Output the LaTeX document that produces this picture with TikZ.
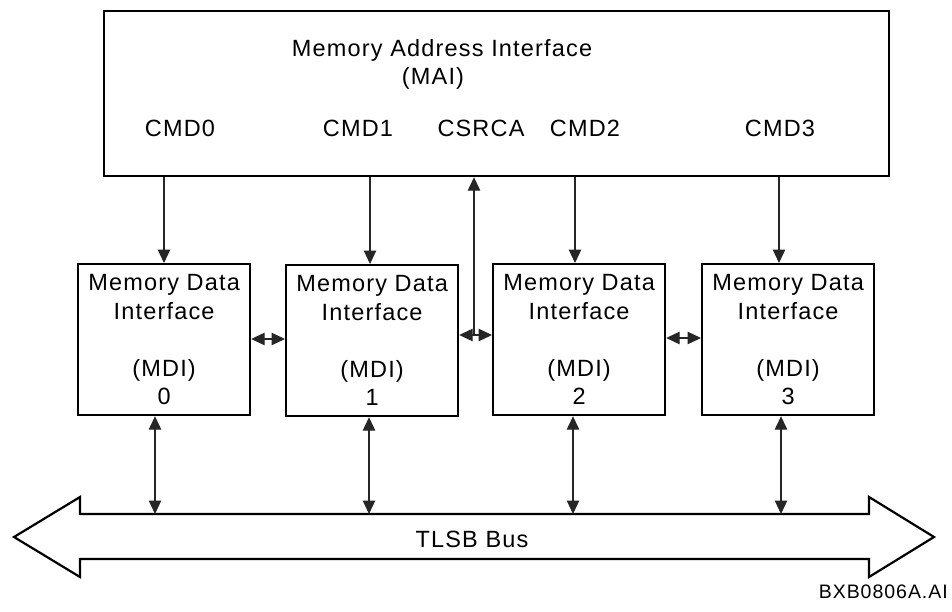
\documentclass[tikz,border=0pt]{standalone}
\usepackage{fontspec}
\setmainfont{Liberation Sans}[LetterSpace=5]
\usetikzlibrary{arrows.meta,calc}

\begin{document}
\begin{tikzpicture}[x=1pt,y=-1pt,
  box/.style={draw=black, line width=2.2pt, minimum width=172pt, minimum height=151pt,
              inner sep=0pt, align=center, anchor=north west,
              font=\fontsize{23.5}{28.5}\selectfont},
  lbl/.style={anchor=base, inner sep=0pt, font=\fontsize{23.5}{27}\selectfont},
  link/.style={draw=black!85, line width=1.2pt},
  head/.style={Triangle[length=13.5pt,width=12.5pt]},
  one/.style={link, -{Triangle[length=13.5pt,width=12.5pt]}},
  two/.style={link, {Triangle[length=13.5pt,width=12.5pt]}-{Triangle[length=13.5pt,width=12.5pt]}}]

  \useasboundingbox (0,0) rectangle (952,612);

  % Memory Address Interface
  \node[draw=black, line width=2.2pt, minimum width=785pt, minimum height=165pt,
        inner sep=0pt, anchor=north west] (mai) at (103,10) {};
  \node[lbl] (maititle) at (442,57) {Memory Address Interface};
  \node[lbl] (maiabbr) at (433,85) {(MAI)};
  \node[lbl] (cmd0) at (180,137) {CMD0};
  \node[lbl] (cmd1) at (358,137) {CMD1};
  \node[lbl] (csrca) at (481,137) {CSRCA};
  \node[lbl] (cmd2) at (585,137) {CMD2};
  \node[lbl] (cmd3) at (780,137) {CMD3};

  % Memory Data Interfaces
  \node[box] (m0) at (77,263)  {Memory Data\\Interface\\[28.5pt](MDI)\\0};
  \node[box] (m1) at (285,264) {Memory Data\\Interface\\[28.5pt](MDI)\\1};
  \node[box] (m2) at (492,263) {Memory Data\\Interface\\[28.5pt](MDI)\\2};
  \node[box] (m3) at (701,263) {Memory Data\\Interface\\[28.5pt](MDI)\\3};

  % TLSB bus
  \draw[line width=2.2pt, line join=miter] (14,537) -- (80,497) -- (80,514) -- (869,514)
    -- (869,497) -- (934,537) -- (869,577) -- (869,559) -- (80,559) -- (80,577) -- cycle;
  \coordinate (bustop) at (0,514);
  \node[lbl] (busname) at (472,547) {TLSB Bus};
  \node[anchor=base east, inner sep=0pt, font=\fontsize{19.5}{22}\selectfont] (figid)
    at (948,598) {BXB0806A.AI};

  % command lines from MAI to each MDI
  \coordinate (c0) at (164,0);
  \coordinate (c1) at (370,0);
  \coordinate (c2) at (575,0);
  \coordinate (c3) at (779,0);
  \draw[one] (c0 |- mai.south) -- (c0 |- m0.north);
  \draw[one] (c1 |- mai.south) -- (c1 |- m1.north);
  \draw[one] (c2 |- mai.south) -- (c2 |- m2.north);
  \draw[one] (c3 |- mai.south) -- (c3 |- m3.north);

  % links between neighbouring MDIs
  \coordinate (h01) at (0,339);
  \coordinate (h12) at (0,335);
  \coordinate (h23) at (0,338);
  \draw[two] (h01 -| m0.east) -- (h01 -| m1.west);
  \draw[two] (h12 -| m1.east) -- (h12 -| m2.west);
  \draw[two] (h23 -| m2.east) -- (h23 -| m3.west);

  % CSRCA line up to the MAI
  \coordinate (cs) at (474,335);
  \draw[one] (cs) -- (cs |- mai.south);

  % MDI to bus
  \coordinate (b0) at (155,0);
  \coordinate (b1) at (369,0);
  \coordinate (b2) at (573,0);
  \coordinate (b3) at (781,0);
  \draw[two] (b0 |- m0.south) -- (b0 |- bustop);
  \draw[two] (b1 |- m1.south) -- (b1 |- bustop);
  \draw[two] (b2 |- m2.south) -- (b2 |- bustop);
  \draw[two] (b3 |- m3.south) -- (b3 |- bustop);
\end{tikzpicture}
\end{document}
